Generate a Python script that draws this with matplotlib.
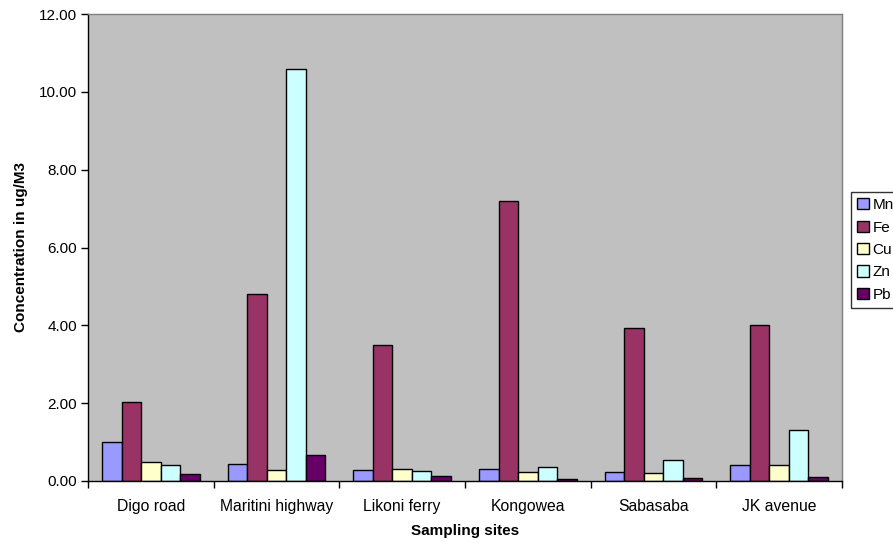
import numpy as np
import matplotlib
matplotlib.use("Agg")
import matplotlib.pyplot as plt
from matplotlib.ticker import FixedLocator, FormatStrFormatter

plt.rcParams["font.family"] = ["Liberation Sans", "DejaVu Sans"]

# heavy metal concentrations per sampling site (ug/M3)
sites = ["Digo road", "Maritini highway", "Likoni ferry", "Kongowea", "Sabasaba", "JK avenue"]
metals = ["Mn", "Fe", "Cu", "Zn", "Pb"]
mn = [1.01, 0.43, 0.29, 0.32, 0.23, 0.42]
fe = [2.03, 4.81, 3.50, 7.19, 3.94, 4.01]
cu = [0.49, 0.29, 0.32, 0.23, 0.21, 0.40]
zn = [0.41, 10.58, 0.25, 0.37, 0.53, 1.31]
pb = [0.17, 0.66, 0.12, 0.06, 0.07, 0.09]
colors = ["#9999FF", "#993366", "#FFFFCC", "#CCFFFF", "#660066"]

series = [mn, fe, cu, zn, pb]

fig = plt.figure(figsize=(8.93, 5.46), dpi=100)
ax = fig.add_axes([88 / 893, 1 - 481 / 546, (842 - 88) / 893, (481 - 14) / 546])
ax.set_facecolor("#C0C0C0")

x = np.arange(len(sites))
w = 0.155
for i, (vals, name, c) in enumerate(zip(series, metals, colors)):
    ax.bar(x + (i - 2) * w, vals, width=w, color=c, edgecolor="black",
           linewidth=1.0, label=name, zorder=2)

ax.set_xlim(-0.5, len(sites) - 0.5)
ax.set_ylim(0, 12)
ax.yaxis.set_major_locator(FixedLocator(np.arange(0, 12.01, 2)))
ax.yaxis.set_major_formatter(FormatStrFormatter("%.2f"))

# category labels centred, tick marks on the group boundaries
ax.set_xticks(x)
ax.set_xticklabels(sites)
ax.tick_params(axis="x", which="major", length=0, pad=13, labelsize=11.3)
ax.set_xticks(np.arange(-0.5, len(sites), 1.0), minor=True)
ax.tick_params(axis="x", which="minor", length=5, width=1, direction="out")
ax.tick_params(axis="y", length=5, width=1, direction="out", labelsize=11, pad=3)

for s in ["left", "bottom"]:
    ax.spines[s].set_color("black")
    ax.spines[s].set_linewidth(1)
for s in ["top", "right"]:
    ax.spines[s].set_color("#808080")
    ax.spines[s].set_linewidth(1)

ax.set_xlabel("Sampling sites", fontsize=11, fontweight="bold", labelpad=7)
ax.set_ylabel("Concentration in ug/M3", fontsize=11, fontweight="bold", labelpad=8)

leg = fig.legend(loc="center left", bbox_to_anchor=(851 / 893, 1 - 250 / 546),
                 frameon=True, fancybox=False, shadow=False, fontsize=11,
                 handlelength=0.75, handleheight=0.75, handletextpad=0.25,
                 labelspacing=0.55, borderpad=0.4, borderaxespad=0)
leg.get_frame().set_edgecolor("black")
leg.get_frame().set_linewidth(1)
for h in leg.legend_handles:
    h.set_edgecolor("black")
    h.set_linewidth(1)

fig.savefig("out.png", dpi=100)
